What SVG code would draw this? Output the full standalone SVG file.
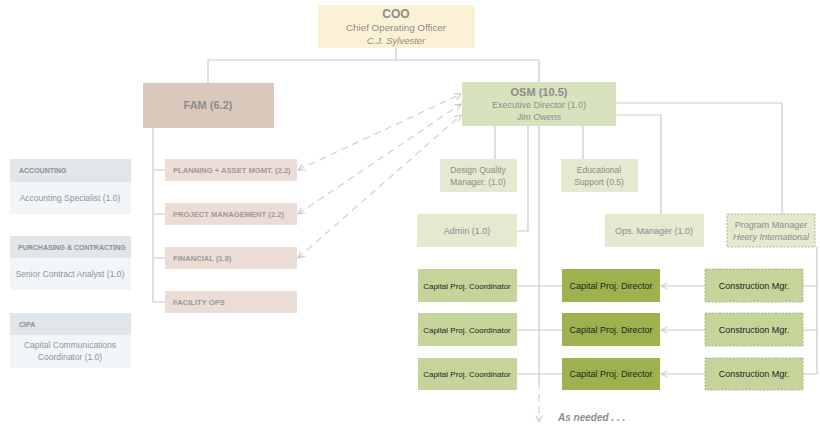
<svg xmlns="http://www.w3.org/2000/svg" width="820" height="426" viewBox="0 0 820 426">
<defs>
<marker id="chev" viewBox="0 0 10 10" refX="9" refY="5" markerWidth="8" markerHeight="8" orient="auto-start-reverse" markerUnits="userSpaceOnUse">
<path d="M1 1 L9 5 L1 9" fill="none" stroke="#c4c4c4" stroke-width="1.2"/>
</marker>
<style>
text{font-family:"Liberation Sans",Arial,sans-serif;fill:#8c8c8c;}
.c{text-anchor:middle;}
.b{font-weight:bold;}
.i{font-style:italic;}
.ln{fill:none;stroke:#cacaca;stroke-width:1.2;}
.dl{fill:none;stroke:#cfcfcf;stroke-width:1.2;stroke-dasharray:7 5;}
.coo{fill:#fbf1d4;}
.fam{fill:#dbc8bd;}
.fsub{fill:#ebddd6;}
.hdr{fill:#e0e6e9;}
.bdy{fill:#f3f6f9;}
.osm{fill:#d9e2bf;}
.lt{fill:#e4e9d0;}
.md{fill:#c5d599;}
.dk{fill:#9db24f;}
.dash{stroke:#9aa77a;stroke-width:0.8;stroke-dasharray:2 1.5;}
.sub{font-size:7.6px;font-weight:bold;fill:#9a9a9a;}
.hd{font-size:7px;font-weight:bold;fill:#8f8f8f;}
.bt{font-size:8.5px;fill:#8f9498;}
.row{fill:#1e1e1e;}
</style>
</defs>

<g id="connectors">
<path class="ln" d="M396 48 V60 M208 60 H539 M208 60 V83 M539 60 V382"/>
<path class="dl" d="M539 382 V422" marker-end="url(#chev)"/>
<path class="ln" d="M153 128 V302 M153 170 H165 M153 214 H165 M153 258 H165 M153 302 H165"/>
<path class="ln" d="M495 126 V159 M528 126 V231 H517 M583 126 V159 M616 115 H661 V214 M616 103 H782 V214"/>
<path class="ln" d="M817 247 V374 M803 286 H817 M803 330 H817 M803 374 H817"/>
<path class="ln" d="M517 286 H562 M517 330 H562 M517 374 H562"/>
<path class="ln" d="M705 286 H661" marker-end="url(#chev)"/>
<path class="ln" d="M705 330 H661" marker-end="url(#chev)"/>
<path class="ln" d="M705 374 H661" marker-end="url(#chev)"/>
<path class="dl" d="M298 170 L461 94" marker-start="url(#chev)" marker-end="url(#chev)"/>
<path class="dl" d="M298 214 L461 104" marker-start="url(#chev)" marker-end="url(#chev)"/>
<path class="dl" d="M298 258 L461 115" marker-start="url(#chev)" marker-end="url(#chev)"/>
</g>

<g id="coo">
<rect class="coo" x="318" y="5" width="157" height="43"/>
<text class="c b" x="396" y="18" font-size="12" fill="#7d7d7d">COO</text>
<text class="c" x="396" y="31" font-size="9.8">Chief Operating Officer</text>
<text class="c i" x="396" y="44" font-size="9.5">C.J. Sylvester</text>
</g>

<g id="fam">
<rect class="fam" x="143" y="83" width="131" height="45"/>
<text class="c b" x="208" y="109" font-size="11" fill="#8e8582">FAM (6.2)</text>
</g>

<g id="planning"><rect class="fsub" x="165" y="159" width="132" height="22"/><text class="sub" x="173" y="173">PLANNING + ASSET MGMT. (2.2)</text></g>
<g id="projmgmt"><rect class="fsub" x="165" y="203" width="132" height="22"/><text class="sub" x="173" y="217">PROJECT MANAGEMENT (2.2)</text></g>
<g id="financial"><rect class="fsub" x="165" y="247" width="132" height="22"/><text class="sub" x="173" y="261">FINANCIAL (1.8)</text></g>
<g id="facility"><rect class="fsub" x="165" y="291" width="132" height="22"/><text class="sub" x="173" y="305">FACILITY OPS</text></g>

<g id="accounting">
<rect class="hdr" x="10" y="159" width="121" height="23"/>
<rect class="bdy" x="10" y="182" width="121" height="32"/>
<text class="hd" x="19" y="173">ACCOUNTING</text>
<text class="c bt" x="70" y="201">Accounting Specialist (1.0)</text>
</g>
<g id="purchasing">
<rect class="hdr" x="10" y="236" width="121" height="22"/>
<rect class="bdy" x="10" y="258" width="121" height="32"/>
<text class="hd" x="18" y="250">PURCHASING &amp; CONTRACTING</text>
<text class="c bt" x="70" y="277">Senior Contract Analyst (1.0)</text>
</g>
<g id="cipa">
<rect class="hdr" x="10" y="313" width="121" height="22"/>
<rect class="bdy" x="10" y="335" width="121" height="33"/>
<text class="hd" x="19" y="327" font-weight="normal">CIPA</text>
<text class="c bt" x="70" y="348">Capital Communications</text>
<text class="c bt" x="70" y="360">Coordinator (1.0)</text>
</g>

<g id="osm">
<rect class="osm" x="462" y="82" width="154" height="44"/>
<text class="c b" x="539" y="96" font-size="11" fill="#878b80">OSM (10.5)</text>
<text class="c" x="539" y="108" font-size="9" fill="#9a9e8e">Executive Director (1.0)</text>
<text class="c i" x="539" y="120" font-size="9" fill="#9a9e8e">Jim Owens</text>
</g>

<g id="design">
<rect class="lt" x="440" y="159" width="77" height="33"/>
<text class="c" x="478" y="173" font-size="8.5" fill="#9a9e8e">Design Quality</text>
<text class="c" x="478" y="185" font-size="8.5" fill="#9a9e8e">Manager. (1.0)</text>
</g>
<g id="educational">
<rect class="lt" x="561" y="159" width="77" height="33"/>
<text class="c" x="599" y="173" font-size="8.5" fill="#9a9e8e">Educational</text>
<text class="c" x="599" y="185" font-size="8.5" fill="#9a9e8e">Support (0.5)</text>
</g>
<g id="admin">
<rect class="lt" x="417" y="214" width="100" height="33"/>
<text class="c" x="467" y="234" font-size="9" fill="#9a9e8e">Admin (1.0)</text>
</g>
<g id="ops">
<rect class="lt" x="605" y="214" width="99" height="33"/>
<text class="c" x="654" y="234" font-size="9" fill="#9a9e8e">Ops. Manager (1.0)</text>
</g>
<g id="progmgr">
<rect class="lt dash" x="727" y="214" width="88" height="33"/>
<text class="c" x="771" y="228" font-size="9" fill="#9a9e8e">Program Manager</text>
<text class="c i" x="771" y="240" font-size="9" fill="#9a9e8e">Heery International</text>
</g>

<g id="coord1"><rect class="md" x="418" y="269" width="99" height="33"/><text class="c row" x="467" y="289" font-size="8">Capital Proj. Coordinator</text></g>
<g id="coord2"><rect class="md" x="418" y="313" width="99" height="33"/><text class="c row" x="467" y="333" font-size="8">Capital Proj. Coordinator</text></g>
<g id="coord3"><rect class="md" x="418" y="358" width="99" height="32"/><text class="c row" x="467" y="377" font-size="8">Capital Proj. Coordinator</text></g>

<g id="dir1"><rect class="dk" x="562" y="269" width="98" height="33"/><text class="c row" x="611" y="289" font-size="9">Capital Proj. Director</text></g>
<g id="dir2"><rect class="dk" x="562" y="313" width="98" height="33"/><text class="c row" x="611" y="333" font-size="9">Capital Proj. Director</text></g>
<g id="dir3"><rect class="dk" x="562" y="358" width="98" height="32"/><text class="c row" x="611" y="377" font-size="9">Capital Proj. Director</text></g>

<g id="cm1"><rect class="md dash" x="705" y="269" width="98" height="33"/><text class="c row" x="754" y="289" font-size="9">Construction Mgr.</text></g>
<g id="cm2"><rect class="md dash" x="705" y="313" width="98" height="33"/><text class="c row" x="754" y="333" font-size="9">Construction Mgr.</text></g>
<g id="cm3"><rect class="md dash" x="705" y="358" width="98" height="32"/><text class="c row" x="754" y="377" font-size="9">Construction Mgr.</text></g>

<g id="asneeded">
<text class="b i" x="558" y="421" font-size="10" fill="#8c8c8c">As needed . . .</text>
</g>
</svg>
